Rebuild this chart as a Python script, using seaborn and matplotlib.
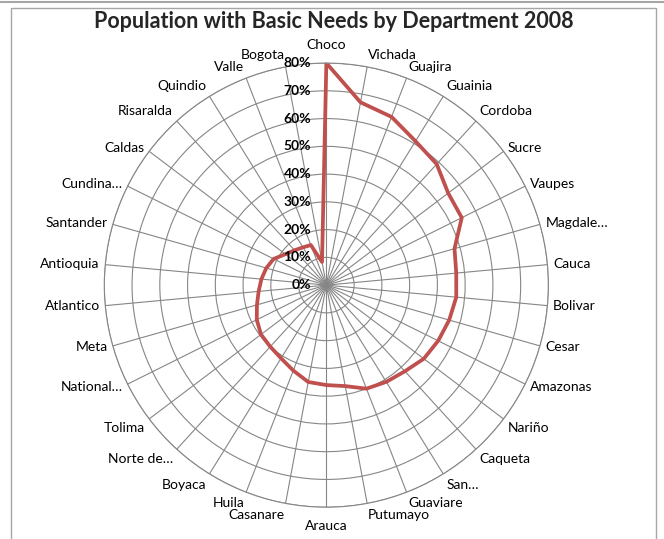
import numpy as np
import pandas as pd
import matplotlib.pyplot as plt
import seaborn as sns
from matplotlib.patches import Rectangle
from matplotlib.lines import Line2D

# departments in clockwise order starting at the top
departments = ["Choco", "Vichada", "Guajira", "Guainia", "Cordoba", "Sucre", "Vaupes",
               "Magdale…", "Cauca", "Bolivar", "Cesar", "Amazonas", "Nariño", "Caqueta",
               "San…", "Guaviare", "Putumayo", "Arauca", "Casanare", "Huila", "Boyaca",
               "Norte de…", "Tolima", "National…", "Meta", "Atlantico", "Antioquia",
               "Santander", "Cundina…", "Caldas", "Risaralda", "Quindio", "Valle", "Bogota"]
shares = [80, 67, 65, 61, 59, 55, 54.5, 48, 47, 47, 46, 45, 44, 42, 41, 40, 37, 36,
          35.5, 33, 31, 30, 29.5, 28, 26, 24.5, 23.5, 22.5, 21.2, 18.5, 17, 16, 15.5, 8.5]
rticks = [0, 10, 20, 30, 40, 50, 60, 70, 80]

sns.set_theme(style="white")
plt.rcParams['font.family'] = ['Lato', 'DejaVu Sans']

fig = plt.figure(figsize=(6.64, 5.39), dpi=100)
ax = fig.add_axes([0.157, 0.059, 0.669, 0.824], projection='polar')
ax.set_theta_zero_location('N')
ax.set_theta_direction(-1)

n = len(departments)
angles = np.arange(n) * 2 * np.pi / n
df = pd.DataFrame({'angle': np.append(angles, 2 * np.pi), 'share': shares + shares[:1]})
sns.lineplot(data=df, x='angle', y='share', ax=ax, color='#C0504D', linewidth=2.7, sort=False)

ax.set_ylim(0, 80)
ax.set_xticks(angles)
ax.set_xticklabels([])
ax.set_yticks(rticks)
ax.set_yticklabels([])
ax.tick_params(length=0)
ax.grid(True, color='#868686', linewidth=0.8)
ax.spines['polar'].set_color('#868686')
ax.spines['polar'].set_linewidth(0.8)
ax.set_xlabel('')
ax.set_ylabel('')

# category labels around the outer ring
for a, name in zip(angles, departments):
    s, c = np.sin(a), np.cos(a)
    ha = 'center' if abs(s) < 0.1 else ('left' if s > 0 else 'right')
    va = 'bottom' if c > 0.7 else ('top' if c < -0.6 else 'center')
    d = 9 if abs(s) < 0.1 else 4
    ax.annotate(name, xy=(a, 80), xytext=(d * s, d * c), textcoords='offset points',
                ha=ha, va=va, fontsize=10, color='black', annotation_clip=False)

# value axis labels
for v in rticks:
    ax.annotate(f'{v}%', xy=(0, v), xytext=(-11, 0), textcoords='offset points',
                ha='right', va='center', fontsize=10, fontweight='bold',
                color='black', annotation_clip=False)

fig.text(0.502, 1 - 22 / 539, "Population with Basic Needs by Department 2008",
         ha='center', va='center', fontsize=15.5, fontweight='bold')

# chart frame
fig.add_artist(Rectangle((11 / 664, -0.02), (656 - 11) / 664, 1 - 8 / 539 + 0.02,
                         transform=fig.transFigure, fill=False, edgecolor='#A6A6A6', lw=1))
fig.add_artist(Line2D([0, 1], [1 - 1.5 / 539] * 2, transform=fig.transFigure,
                      color='#A6A6A6', lw=1.5))

fig.savefig('out.png', dpi=100)
